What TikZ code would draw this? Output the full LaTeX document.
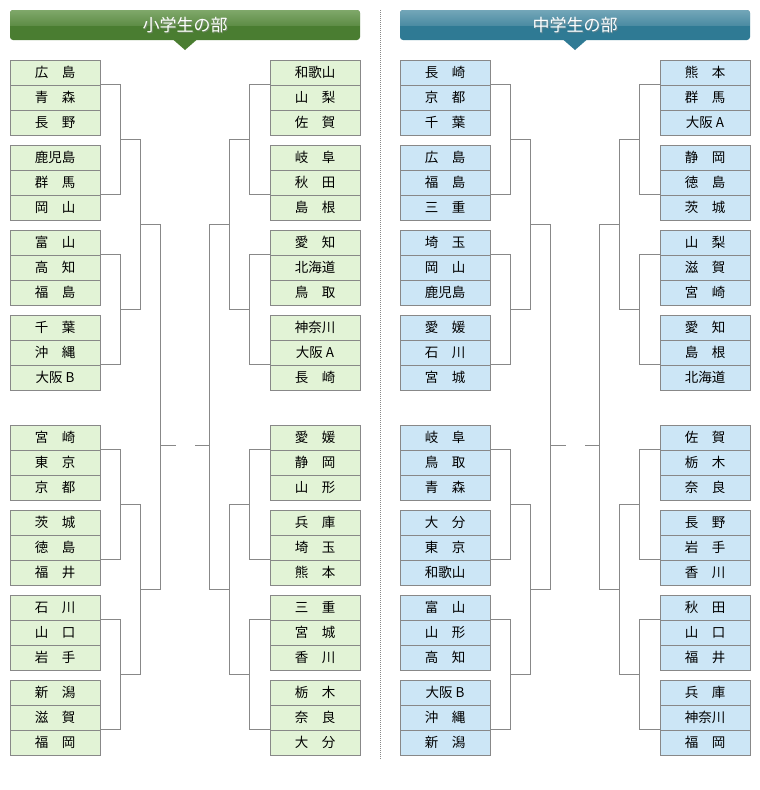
\documentclass[tikz,border=0pt]{standalone}
\usepackage{fontspec}
\setmainfont{Noto Sans CJK JP}
\usetikzlibrary{calc}
\definecolor{cellline}{HTML}{888888}
\definecolor{efill}{HTML}{E2F3D6}
\definecolor{mfill}{HTML}{CCE6F6}
\definecolor{ehtop}{HTML}{7FA86A}
\definecolor{ehmid}{HTML}{5F8D47}
\definecolor{ehbot}{HTML}{4A7D31}
\definecolor{mhtop}{HTML}{73A6B8}
\definecolor{mhmid}{HTML}{4C8CA3}
\definecolor{mhbot}{HTML}{2F7A94}
\tikzset{
  cell/.style={draw=cellline, line width=1pt, minimum width=90pt, minimum height=25pt,
    inner sep=0pt, font=\fontsize{13.5}{13.5}\selectfont},
  ecell/.style={cell, fill=efill},
  mcell/.style={cell, fill=mfill},
  ln/.style={draw=cellline, line width=1pt},
  titletext/.style={text=white, font=\fontsize{17}{17}\selectfont, inner sep=0pt},
  titleshadow/.style={text=black!45, font=\fontsize{17}{17}\selectfont, inner sep=0pt, opacity=0.5}
}
% prefix, x-centre, group, top y, three names, style
\newcommand\tgrp[8]{%
  \node[#8] (#1-#3-1) at (#2,#4+12.5) {#5};
  \node[#8] (#1-#3-2) at (#2,#4+37.5) {#6};
  \node[#8] (#1-#3-3) at (#2,#4+62.5) {#7};
}
\begin{document}
\begin{tikzpicture}[x=1pt,y=-1pt]
\useasboundingbox (0,0) rectangle (760,790);
\fill[white] (0,0) rectangle (760,790);

% ---------- headers ----------
\foreach \xa/\xb/\xc/\tp/\md/\bt/\nm/\tt in {10/360/185/ehtop/ehmid/ehbot/eh/小学生の部, 400/750/575/mhtop/mhmid/mhbot/mh/中学生の部}{
  \fill[\bt, rounded corners=3pt] (\xa,10) rectangle (\xb,40);
  \begin{scope}
    \clip[rounded corners=3pt] (\xa,10) rectangle (\xb,40);
    \shade[top color=\tp, bottom color=\md] (\xa,10) rectangle (\xb,25);
  \end{scope}
  \fill[\bt] (\xc-12,39.5) -- (\xc+12,39.5) -- (\xc,50) -- cycle;
  \node[titleshadow] at (\xc+1,26) {\tt};
  \node[titletext] (\nm) at (\xc,25) {\tt};
}

% ---------- divider ----------
\draw[cellline, line width=1pt, dash pattern=on 1pt off 1pt] (380,10) -- (380,759);

% ---------- elementary, left ----------
\tgrp{e-L}{55}{1}{60}{広　島}{青　森}{長　野}{ecell}
\tgrp{e-L}{55}{2}{145}{鹿児島}{群　馬}{岡　山}{ecell}
\tgrp{e-L}{55}{3}{230}{富　山}{高　知}{福　島}{ecell}
\tgrp{e-L}{55}{4}{315}{千　葉}{沖　縄}{大阪 B}{ecell}
\tgrp{e-L}{55}{5}{425}{宮　崎}{東　京}{京　都}{ecell}
\tgrp{e-L}{55}{6}{510}{茨　城}{徳　島}{福　井}{ecell}
\tgrp{e-L}{55}{7}{595}{石　川}{山　口}{岩　手}{ecell}
\tgrp{e-L}{55}{8}{680}{新　潟}{滋　賀}{福　岡}{ecell}
% ---------- elementary, right ----------
\tgrp{e-R}{315}{1}{60}{和歌山}{山　梨}{佐　賀}{ecell}
\tgrp{e-R}{315}{2}{145}{岐　阜}{秋　田}{島　根}{ecell}
\tgrp{e-R}{315}{3}{230}{愛　知}{北海道}{鳥　取}{ecell}
\tgrp{e-R}{315}{4}{315}{神奈川}{大阪 A}{長　崎}{ecell}
\tgrp{e-R}{315}{5}{425}{愛　媛}{静　岡}{山　形}{ecell}
\tgrp{e-R}{315}{6}{510}{兵　庫}{埼　玉}{熊　本}{ecell}
\tgrp{e-R}{315}{7}{595}{三　重}{宮　城}{香　川}{ecell}
\tgrp{e-R}{315}{8}{680}{栃　木}{奈　良}{大　分}{ecell}
% ---------- middle school, left ----------
\tgrp{m-L}{445}{1}{60}{長　崎}{京　都}{千　葉}{mcell}
\tgrp{m-L}{445}{2}{145}{広　島}{福　島}{三　重}{mcell}
\tgrp{m-L}{445}{3}{230}{埼　玉}{岡　山}{鹿児島}{mcell}
\tgrp{m-L}{445}{4}{315}{愛　媛}{石　川}{宮　城}{mcell}
\tgrp{m-L}{445}{5}{425}{岐　阜}{鳥　取}{青　森}{mcell}
\tgrp{m-L}{445}{6}{510}{大　分}{東　京}{和歌山}{mcell}
\tgrp{m-L}{445}{7}{595}{富　山}{山　形}{高　知}{mcell}
\tgrp{m-L}{445}{8}{680}{大阪 B}{沖　縄}{新　潟}{mcell}
% ---------- middle school, right ----------
\tgrp{m-R}{705}{1}{60}{熊　本}{群　馬}{大阪 A}{mcell}
\tgrp{m-R}{705}{2}{145}{静　岡}{徳　島}{茨　城}{mcell}
\tgrp{m-R}{705}{3}{230}{山　梨}{滋　賀}{宮　崎}{mcell}
\tgrp{m-R}{705}{4}{315}{愛　知}{島　根}{北海道}{mcell}
\tgrp{m-R}{705}{5}{425}{佐　賀}{栃　木}{奈　良}{mcell}
\tgrp{m-R}{705}{6}{510}{長　野}{岩　手}{香　川}{mcell}
\tgrp{m-R}{705}{7}{595}{秋　田}{山　口}{福　井}{mcell}
\tgrp{m-R}{705}{8}{680}{兵　庫}{神奈川}{福　岡}{mcell}

% ---------- stub ends at the centre ----------
\coordinate (e-L-stub) at (176,445);
\coordinate (e-R-stub) at (195,445);
\coordinate (m-L-stub) at (566,445);
\coordinate (m-R-stub) at (585,445);

% ---------- brackets ----------
\foreach \p/\d/\s in {e-L/1/east, e-R/-1/west, m-L/1/east, m-R/-1/west}{
  \foreach \ga/\gb [count=\k] in {1/2,3/4,5/6,7/8}{
    \draw[ln] (\p-\ga-2.north \s) -- ++(20*\d,0) |- (\p-\gb-3.north \s);
    \coordinate (\p-b\k) at ($(\p-\ga-2.north \s)!.5!(\p-\gb-3.north \s) + (20*\d,0)$);
  }
  \draw[ln] (\p-b1) -- ++(20*\d,0) |- (\p-b2);
  \coordinate (\p-c1) at ($(\p-b1)!.5!(\p-b2) + (20*\d,0)$);
  \draw[ln] (\p-b3) -- ++(20*\d,0) |- (\p-b4);
  \coordinate (\p-c2) at ($(\p-b3)!.5!(\p-b4) + (20*\d,0)$);
  \draw[ln] (\p-c1) -- ++(20*\d,0) |- (\p-c2);
  \coordinate (\p-v) at ($(\p-c1) + (20*\d,0)$);
  \draw[ln] (\p-v |- \p-stub) -- (\p-stub);
}
\end{tikzpicture}
\end{document}
